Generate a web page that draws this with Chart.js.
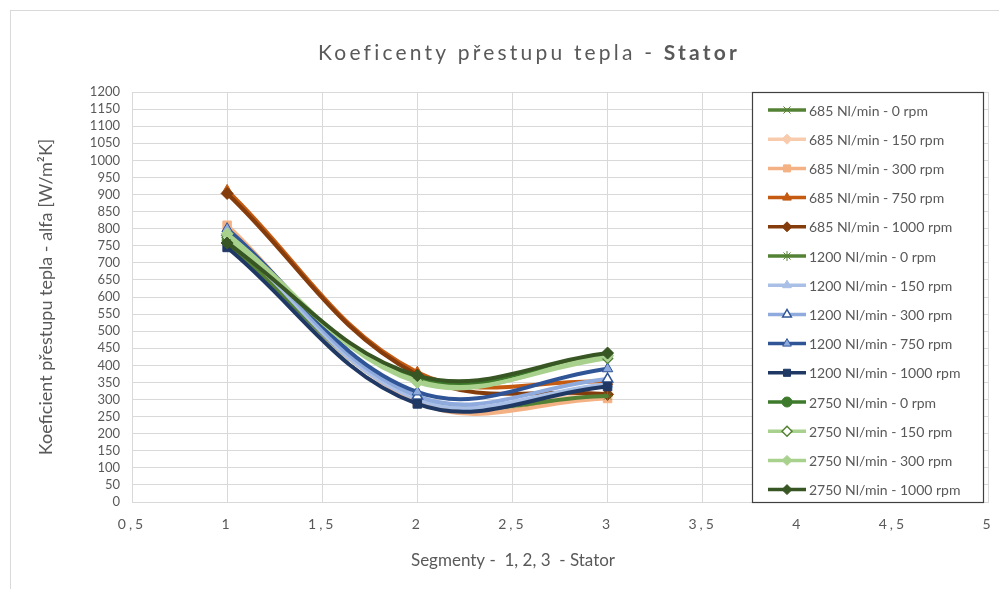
<!DOCTYPE html>
<html>
<head>
<meta charset="utf-8">
<script src="https://cdn.jsdelivr.net/npm/chart.js@4/dist/chart.umd.min.js"></script>
<style>
  html, body { margin: 0; padding: 0; background: #fff; }
  #chart { display: block; }
</style>
</head>
<body>
<canvas id="chart" width="999" height="589"></canvas>
<script>
// ── Data ──────────────────────────────────────────────────────
const segments = [1, 2, 3];

const seriesNames = [
  '685 Nl/min - 0 rpm', '685 Nl/min - 150 rpm', '685 Nl/min - 300 rpm',
  '685 Nl/min - 750 rpm', '685 Nl/min - 1000 rpm',
  '1200 Nl/min - 0 rpm', '1200 Nl/min - 150 rpm', '1200 Nl/min - 300 rpm',
  '1200 Nl/min - 750 rpm', '1200 Nl/min - 1000 rpm',
  '2750 Nl/min - 0 rpm', '2750 Nl/min - 150 rpm', '2750 Nl/min - 300 rpm',
  '2750 Nl/min - 1000 rpm'
];

const alfa685_0    = [760, 300, 310];
const alfa685_150  = [770, 298, 318];
const alfa685_300  = [810, 292, 303];
const alfa685_750  = [912, 380, 352];
const alfa685_1000 = [903, 372, 315];
const alfa1200_0    = [755, 305, 310];
const alfa1200_150  = [780, 300, 345];
const alfa1200_300  = [790, 310, 360];
const alfa1200_750  = [800, 322, 390];
const alfa1200_1000 = [745, 287, 338];
const alfa2750_0    = [765, 360, 432];
const alfa2750_150  = [775, 355, 420];
const alfa2750_300  = [785, 350, 428];
const alfa2750_1000 = [758, 370, 436];

const seriesValues = [
  alfa685_0, alfa685_150, alfa685_300, alfa685_750, alfa685_1000,
  alfa1200_0, alfa1200_150, alfa1200_300, alfa1200_750, alfa1200_1000,
  alfa2750_0, alfa2750_150, alfa2750_300, alfa2750_1000
];

const xMin = 0.5, xMax = 5, xStep = 0.5;
const yMin = 0, yMax = 1200, yStep = 50;

const chartTitle = ['Koeficenty přestupu tepla - ', 'Stator'];
const xTitle = 'Segmenty -  1, 2, 3  - Stator';
const yTitle = 'Koeficient přestupu tepla - alfa [W/m²K]';

// ── Styles (line colour, marker, marker fill, marker border) ──
const styles = [
  { c: '#548235', p: 'crossRot', f: '#548235', b: '#548235', r: 5 },
  { c: '#F8CBAD', p: 'rectRot',  f: '#F8CBAD', b: '#F8CBAD', r: 5 },
  { c: '#F4B183', p: 'rect',     f: '#F4B183', b: '#F4B183', r: 6 },
  { c: '#C55A11', p: 'triangle', f: '#C55A11', b: '#C55A11', r: 6 },
  { c: '#843C0C', p: 'rectRot',  f: '#843C0C', b: '#843C0C', r: 6 },
  { c: '#548235', p: 'star',     f: '#548235', b: '#548235', r: 5 },
  { c: '#A9BFE6', p: 'triangle', f: '#A9BFE6', b: '#A9BFE6', r: 6 },
  { c: '#8FAADC', p: 'triangle', f: '#ffffff', b: '#2F5597', r: 6 },
  { c: '#2F5597', p: 'triangle', f: '#8FAADC', b: '#2F5597', r: 6 },
  { c: '#1F3864', p: 'rect',     f: '#1F3864', b: '#1F3864', r: 6 },
  { c: '#3E7A2B', p: 'circle',   f: '#3E7A2B', b: '#3E7A2B', r: 5 },
  { c: '#A9D18E', p: 'rectRot',  f: '#ffffff', b: '#548235', r: 5 },
  { c: '#A9D18E', p: 'rectRot',  f: '#A9D18E', b: '#A9D18E', r: 6 },
  { c: '#375623', p: 'rectRot',  f: '#375623', b: '#375623', r: 6 }
];

const FONT = 'Lato, "Open Sans", sans-serif';
const TEXT = '#595959';
const GRID = '#d9d9d9';

// later series on top, like the spreadsheet
const datasets = seriesNames.map((name, i) => ({
  label: name,
  data: segments.map((s, j) => ({ x: s, y: seriesValues[i][j] })),
  order: seriesNames.length - i,
  borderColor: styles[i].c,
  borderWidth: 4,
  tension: 0.38,
  pointStyle: styles[i].p,
  pointRadius: styles[i].r,
  pointBackgroundColor: styles[i].f,
  pointBorderColor: styles[i].b,
  pointBorderWidth: styles[i].f === '#ffffff' ? 1.5 : 1,
  fill: false
}));

// ── Plugin: frame, spaced title, x tick spacing, legend box ───
const decor = {
  id: 'decor',
  beforeDraw(chart) {
    const ctx = chart.ctx;
    ctx.save();
    ctx.fillStyle = '#fff';
    ctx.fillRect(0, 0, chart.width, chart.height);
    ctx.strokeStyle = GRID;
    ctx.lineWidth = 1;
    ctx.strokeRect(10.5, 10.5, chart.width, chart.height);
    ctx.restore();
  },
  afterDatasetsDraw(chart) {
    // x tick labels are drawn after this (z: 1) – give them letter spacing
    chart.ctx.letterSpacing = '3px';
  },
  afterDraw(chart) {
    const ctx = chart.ctx;
    ctx.letterSpacing = '0px';
    ctx.save();

    // title: normal part + bold "Stator"
    ctx.textBaseline = 'middle';
    ctx.fillStyle = TEXT;
    ctx.letterSpacing = '3.2px';
    ctx.font = '21px ' + FONT;
    const w1 = ctx.measureText(chartTitle[0]).width;
    ctx.font = 'bold 21px ' + FONT;
    const w2 = ctx.measureText(chartTitle[1]).width;
    const tx = 529 - (w1 + w2) / 2;
    ctx.font = '21px ' + FONT;
    ctx.textAlign = 'left';
    ctx.fillText(chartTitle[0], tx, 53);
    ctx.font = 'bold 21px ' + FONT;
    ctx.fillText(chartTitle[1], tx + w1, 53);
    ctx.letterSpacing = '0px';

    // x axis title
    ctx.font = '17px ' + FONT;
    ctx.textAlign = 'center';
    ctx.fillText(xTitle, 513, 561);

    // legend box
    const lx = 752, ly = 92, lw = 231, lh = 410;
    ctx.fillStyle = '#fff';
    ctx.fillRect(lx, ly, lw, lh);
    ctx.strokeStyle = '#404040';
    ctx.lineWidth = 1.2;
    ctx.strokeRect(lx + 0.5, ly + 0.5, lw, lh);

    ctx.font = '14px ' + FONT;
    ctx.textAlign = 'left';
    ctx.textBaseline = 'middle';
    chart.data.datasets.forEach((ds, i) => {
      const y = 110 + i * 29.2;
      ctx.strokeStyle = ds.borderColor;
      ctx.lineWidth = 3.5;
      ctx.beginPath();
      ctx.moveTo(768, y);
      ctx.lineTo(806, y);
      ctx.stroke();
      ctx.fillStyle = ds.pointBackgroundColor;
      ctx.strokeStyle = ds.pointBorderColor;
      ctx.lineWidth = ds.pointBorderWidth;
      if (Chart.helpers && Chart.helpers.drawPoint) {
        Chart.helpers.drawPoint(ctx, {
          pointStyle: ds.pointStyle, radius: Math.min(ds.pointRadius, 5),
          rotation: 0, borderWidth: ds.pointBorderWidth
        }, 787, y);
      }
      ctx.fillStyle = TEXT;
      ctx.fillText(ds.label, 809, y + 1);
    });
    ctx.restore();
  }
};

new Chart(document.getElementById('chart'), {
  type: 'line',
  data: { datasets },
  plugins: [decor],
  options: {
    responsive: false,
    animation: false,
    layout: { padding: { top: 92, right: 11, left: 0, bottom: 0 } },
    plugins: {
      legend: { display: false },
      title: { display: false },
      tooltip: { enabled: false }
    },
    scales: {
      x: {
        type: 'linear',
        min: xMin, max: xMax,
        afterFit: s => { s.height = 87; s.paddingRight = 0; s.paddingLeft = 0; },
        grid: { color: GRID, drawTicks: false },
        border: { color: GRID },
        ticks: {
          stepSize: xStep, z: 1, padding: 14,
          color: TEXT, font: { family: FONT, size: 14 },
          callback: v => String(v).replace('.', ',')
        },
        title: { display: false }
      },
      y: {
        min: yMin, max: yMax,
        afterFit: s => { s.width = 132; },
        grid: { color: GRID, drawTicks: false },
        border: { display: false },
        ticks: {
          stepSize: yStep, autoSkip: false, padding: 12,
          color: TEXT, font: { family: FONT, size: 13 },
          callback: v => String(v)
        },
        title: {
          display: true, text: yTitle,
          color: TEXT, font: { family: FONT, size: 18 },
          padding: { top: 35, bottom: 0 }
        }
      }
    }
  }
});
</script>
</body>
</html>
